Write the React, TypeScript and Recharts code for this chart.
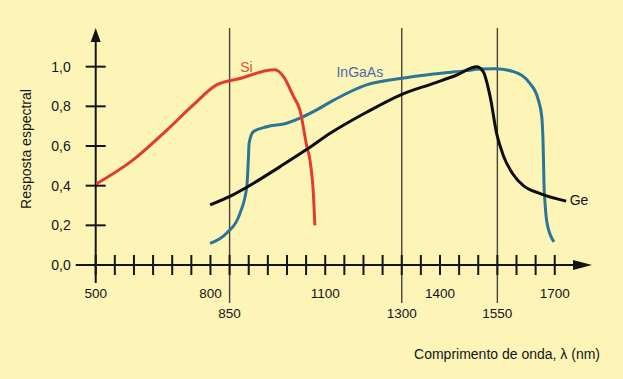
import React from 'react';
import { LineChart, Line, XAxis, YAxis, ReferenceLine, Label } from 'recharts';

// ---- Data (wavelength in nm, relative spectral response) ----
const siNm = [500, 598, 686, 755, 816, 877, 956, 969, 991, 1017, 1034, 1052, 1060, 1069, 1073];
const siResp = [0.407, 0.53, 0.68, 0.807, 0.908, 0.94, 0.983, 0.985, 0.95, 0.85, 0.78, 0.597, 0.53, 0.36, 0.2];

const ingaasNm = [799, 842, 877, 895, 899, 901, 912, 947, 999, 1034, 1069, 1121, 1208, 1296, 1383, 1470, 1505, 1545, 1592, 1635, 1657, 1666, 1670, 1672, 1674, 1680, 1698];
const ingaasResp = [0.109, 0.16, 0.26, 0.395, 0.53, 0.614, 0.672, 0.697, 0.715, 0.74, 0.773, 0.83, 0.908, 0.94, 0.963, 0.98, 0.988, 0.99, 0.975, 0.916, 0.832, 0.748, 0.58, 0.4, 0.33, 0.21, 0.117];

const geNm = [799, 860, 895, 982, 1052, 1113, 1208, 1296, 1383, 1444, 1496, 1513, 1531, 1548, 1566, 1590, 1618, 1662, 1730];
const geResp = [0.303, 0.355, 0.392, 0.496, 0.583, 0.664, 0.77, 0.857, 0.916, 0.958, 1.0, 0.975, 0.85, 0.664, 0.55, 0.46, 0.4, 0.36, 0.322];

const xTicks = [500, 550, 600, 650, 700, 750, 800, 850, 900, 950, 1000, 1050, 1100, 1150, 1200, 1250, 1300, 1350, 1400, 1450, 1500, 1550, 1600, 1650, 1700];
const xLabelled = [500, 800, 850, 1100, 1300, 1400, 1550, 1700];
const xLowerRow = [850, 1300, 1550];
const yTicks = [0, 0.2, 0.4, 0.6, 0.8, 1.0];
const markerLines = [850, 1300, 1550];

const zip = (xs: number[], ys: number[]) => xs.map((nm, i) => ({ nm, r: ys[i] }));
const siData = zip(siNm, siResp);
const ingaasData = zip(ingaasNm, ingaasResp);
const geData = zip(geNm, geResp);

const FONT = '"Liberation Sans", Arial, Helvetica, sans-serif';
const INK = '#141414';

const XTick = (props: any) => {
  const { x, y, payload } = props;
  const v = payload.value;
  const hasLabel = xLabelled.includes(v);
  const lower = xLowerRow.includes(v);
  return (
    <g>
      <line x1={x} x2={x} y1={y - 10} y2={y + 10} stroke={INK} strokeWidth={2} />
      {hasLabel && (
        <text x={x} y={lower ? y + 48 : y + 28} textAnchor="middle" dominantBaseline="central"
          fontFamily={FONT} fontSize={13.5} fill={INK}>{String(v)}</text>
      )}
    </g>
  );
};

const YTick = (props: any) => {
  const { x, y, payload } = props;
  const txt = Number(payload.value).toFixed(1).replace('.', ',');
  return (
    <g>
      <line x1={x - 10} x2={x + 10} y1={y} y2={y} stroke={INK} strokeWidth={2} />
      <text x={x - 25} y={y} textAnchor="end" dominantBaseline="central"
        fontFamily={FONT} fontSize={14} fill={INK}>{txt}</text>
    </g>
  );
};

const YAxisShape = (p: any) => {
  const x = p.x1;
  const top = Math.min(p.y1, p.y2);
  const bot = Math.max(p.y1, p.y2);
  return (
    <g>
      <line x1={x} x2={x} y1={top + 8} y2={bot + 18} stroke={INK} strokeWidth={2} />
      <polygon points={`${x},${top + 1} ${x - 5},${top + 15} ${x + 5},${top + 15}`} fill={INK} />
    </g>
  );
};

const XAxisShape = (p: any) => {
  const y = p.y1;
  const left = Math.min(p.x1, p.x2);
  const right = Math.max(p.x1, p.x2);
  return (
    <g>
      <line x1={left - 20} x2={right - 12} y1={y} y2={y} stroke={INK} strokeWidth={2} />
      <polygon points={`${right - 1},${y} ${right - 20},${y - 5} ${right - 20},${y + 5}`} fill={INK} />
    </g>
  );
};

const MarkerShape = (p: any) => {
  const x = p.x1;
  const top = Math.min(p.y1, p.y2);
  const bot = Math.max(p.y1, p.y2);
  return <line x1={x} x2={x} y1={top + 1} y2={bot + 38} stroke="#45453a" strokeWidth={1.4} />;
};

const makeLabel = (text: string, idx: number, dx: number, dy: number, color: string, anchor: string) =>
  (props: any) => {
    if (props.index !== idx) return null;
    return (
      <text key={text} x={props.x + dx} y={props.y + dy} textAnchor={anchor} dominantBaseline="central"
        fontFamily={FONT} fontSize={14} fill={color}>{text}</text>
    );
  };

export default function App() {
  return (
    <div style={{ position: 'absolute', left: 0, top: 0, width: 623, height: 379, background: '#FDF5B8' }}>
      <LineChart width={623} height={379} margin={{ top: 27, right: 30, bottom: 84, left: 35.7 }}>
        <XAxis type="number" dataKey="nm" domain={[500, 1800]} ticks={xTicks} interval={0}
          allowDataOverflow tickSize={0} tickMargin={0} tickLine={false} axisLine={false}
          height={30} tick={<XTick />}>
          <Label content={(p: any) => {
            const vb = p.viewBox;
            return (
              <text x={vb.x + vb.width + 7} y={vb.y + 89} textAnchor="end" dominantBaseline="central"
                fontFamily={FONT} fontSize={14} fill={INK}>Comprimento de onda, λ (nm)</text>
            );
          }} />
        </XAxis>
        <YAxis type="number" domain={[0, 1.2]} ticks={yTicks} interval={0} width={60}
          allowDataOverflow tickSize={0} tickMargin={0} tickLine={false} axisLine={false}
          tick={<YTick />}>
          <Label content={(p: any) => {
            const vb = p.viewBox;
            const cx = vb.x - 9.7;
            const cy = vb.y + 122;
            return (
              <text x={cx} y={cy} textAnchor="middle" dominantBaseline="central" transform={`rotate(-90 ${cx} ${cy})`}
                fontFamily={FONT} fontSize={14} fill={INK}>Resposta espectral</text>
            );
          }} />
        </YAxis>
        {markerLines.map((m) => (
          <ReferenceLine key={m} x={m} shape={MarkerShape} />
        ))}
        <ReferenceLine x={500} shape={YAxisShape} />
        <ReferenceLine y={0} shape={XAxisShape} />
        <Line data={ingaasData} dataKey="r" type="monotone" stroke="#2a7795" strokeWidth={3}
          dot={false} isAnimationActive={false}
          label={makeLabel('InGaAs', 12, -6.7, -13.3, '#4b6aa8', 'middle')} />
        <Line data={siData} dataKey="r" type="monotone" stroke="#e23d2b" strokeWidth={3}
          dot={false} isAnimationActive={false}
          label={makeLabel('Si', 5, 6.5, -11.6, '#d4553a', 'middle')} />
        <Line data={geData} dataKey="r" type="monotone" stroke="#0d0d0d" strokeWidth={3}
          dot={false} isAnimationActive={false}
          label={makeLabel('Ge', 18, 3.5, -0.7, INK, 'start')} />
      </LineChart>
    </div>
  );
}
